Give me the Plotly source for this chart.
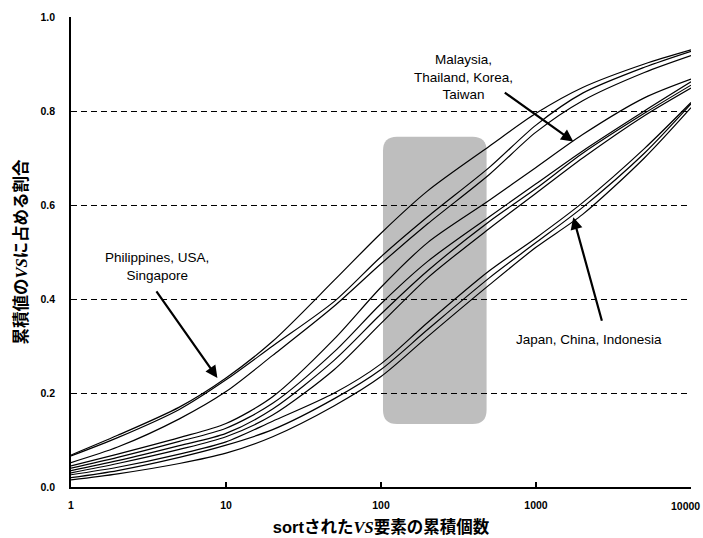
import math
import plotly.graph_objects as go

# ---- data ----
x_counts = [1, 2, 5, 10, 20, 50, 100, 200, 500, 1000, 2000, 5000, 10000]

philippines = [0.068, 0.110, 0.170, 0.232, 0.310, 0.440, 0.540, 0.630, 0.725, 0.795, 0.850, 0.900, 0.930]
usa         = [0.066, 0.105, 0.165, 0.228, 0.300, 0.395, 0.490, 0.575, 0.680, 0.770, 0.838, 0.893, 0.927]
singapore   = [0.052, 0.085, 0.145, 0.203, 0.280, 0.385, 0.475, 0.560, 0.665, 0.755, 0.822, 0.882, 0.918]

malaysia = [0.045, 0.070, 0.105, 0.135, 0.192, 0.315, 0.425, 0.520, 0.610, 0.680, 0.750, 0.828, 0.868]
thailand = [0.040, 0.063, 0.097, 0.125, 0.178, 0.288, 0.390, 0.480, 0.575, 0.645, 0.715, 0.800, 0.862]
korea    = [0.035, 0.056, 0.088, 0.114, 0.166, 0.270, 0.368, 0.460, 0.565, 0.635, 0.710, 0.795, 0.855]
taiwan   = [0.030, 0.050, 0.080, 0.107, 0.153, 0.250, 0.348, 0.445, 0.550, 0.625, 0.700, 0.790, 0.849]

japan     = [0.026, 0.042, 0.070, 0.096, 0.140, 0.200, 0.262, 0.350, 0.460, 0.530, 0.605, 0.720, 0.818]
china     = [0.020, 0.035, 0.063, 0.089, 0.122, 0.188, 0.250, 0.335, 0.445, 0.520, 0.595, 0.710, 0.815]
indonesia = [0.015, 0.028, 0.050, 0.072, 0.107, 0.173, 0.235, 0.320, 0.430, 0.510, 0.580, 0.700, 0.807]

series = {
    "Philippines": philippines, "USA": usa, "Singapore": singapore,
    "Malaysia": malaysia, "Thailand": thailand, "Korea": korea, "Taiwan": taiwan,
    "Japan": japan, "China": china, "Indonesia": indonesia,
}

x_tick_vals = [1, 10, 100, 1000, 10000]
x_tick_text = ["1", "10", "100", "1000", "10000"]
y_tick_vals = [0.0, 0.2, 0.4, 0.6, 0.8, 1.0]

highlight_x = [103, 480]      # shaded band (x, data)
highlight_y = [0.134, 0.745]  # shaded band (y, data)

x_range_log = [0, 4]

fig = go.Figure()
for name, vals in series.items():
    fig.add_trace(go.Scatter(
        x=x_counts, y=vals, mode="lines", name=name,
        line=dict(color="black", width=1.2, shape="spline", smoothing=0.8),
        showlegend=False,
    ))

# rounded shaded rectangle in paper coordinates derived from data values
MARGIN = dict(l=71, r=12, t=17, b=51)
W_PLOT, H_PLOT = 703.0 - MARGIN["l"] - MARGIN["r"], 538.0 - MARGIN["t"] - MARGIN["b"]
def xp(v):
    return (math.log10(v) - x_range_log[0]) / (x_range_log[1] - x_range_log[0])
px0, px1 = xp(highlight_x[0]), xp(highlight_x[1])
py0, py1 = highlight_y
rx, ry = 14 / W_PLOT, 14 / H_PLOT
path = (f"M {px0+rx},{py0} L {px1-rx},{py0} Q {px1},{py0} {px1},{py0+ry} "
        f"L {px1},{py1-ry} Q {px1},{py1} {px1-rx},{py1} "
        f"L {px0+rx},{py1} Q {px0},{py1} {px0},{py1-ry} "
        f"L {px0},{py0+ry} Q {px0},{py0} {px0+rx},{py0} Z")
fig.add_shape(type="path", path=path, xref="paper", yref="paper",
              fillcolor="rgb(190,190,190)", line=dict(width=0), layer="below")

FONT = "Liberation Sans, Arial, Noto Sans CJK JP, sans-serif"
ann_font = dict(family=FONT, size=13.5, color="black")
TITLE_FONT = dict(family=FONT, size=16.5, color="black", weight="bold")
TICK_FONT = dict(family=FONT, size=10.5, color="black", weight="bold")

# arrows
arrows = [
    (8.8, 0.232, -62, -88),
    (1740, 0.735, -70, -50),
    (1740, 0.574, 29, 105),
]
for ax_, ay_, dx, dy in arrows:
    fig.add_annotation(x=math.log10(ax_), y=ay_, xref="x", yref="y", text="",
                       showarrow=True, arrowhead=2, arrowsize=1.1, arrowwidth=2.2,
                       arrowcolor="black", ax=dx, ay=dy, axref="pixel", ayref="pixel")

labels = [
    (3.6, 0.47, "Philippines, USA,<br>Singapore"),
    (340, 0.872, "Malaysia,<br>Thailand, Korea,<br>Taiwan"),
    (2200, 0.313, "Japan, China, Indonesia"),
]
for lx, ly, txt in labels:
    fig.add_annotation(x=math.log10(lx), y=ly, xref="x", yref="y", text=txt,
                       showarrow=False, font=ann_font, align="center")

# last x tick label, kept fully inside the page (right-aligned at the page edge)
shown_ticktext = x_tick_text[:-1] + [""]
fig.add_annotation(x=1 + (MARGIN["r"] - 1) / W_PLOT, y=0, xref="paper", yref="paper",
                   text=x_tick_text[-1], showarrow=False, xanchor="right",
                   yanchor="middle", yshift=-19, font=TICK_FONT)

fig.update_layout(
    width=703, height=538,
    margin=dict(**MARGIN, autoexpand=False),
    paper_bgcolor="white", plot_bgcolor="white",
    font=dict(family=FONT, color="black"),
)
fig.update_xaxes(
    type="log", range=x_range_log, automargin=True,
    tickvals=x_tick_vals, ticktext=shown_ticktext,
    ticks="inside", ticklen=5, tickwidth=1.5, tickcolor="black",
    showline=True, linecolor="black", linewidth=1.5,
    showgrid=False, zeroline=False,
    tickfont=TICK_FONT,
    ticklabelstandoff=8,
    title=dict(text="sortされた<span style=\"font-family:Liberation Serif\"><i>VS</i></span>要素の累積個数",
               font=TITLE_FONT, standoff=11),
)
fig.update_yaxes(
    range=[0, 1], tickvals=y_tick_vals, tickformat=".1f", automargin=True,
    ticks="", showline=True, linecolor="black", linewidth=1.5,
    showgrid=True, gridcolor="black", gridwidth=1, griddash="6px,4px",
    zeroline=False,
    tickfont=TICK_FONT,
    ticklabelstandoff=12,
    title=dict(text="累積値の<span style=\"font-family:Liberation Serif\"><i>VS</i></span>に占める割合",
               font=TITLE_FONT, standoff=9),
)

fig.write_html("out.html", config={"displayModeBar": False},
               post_script="document.body.style.margin='0';")
